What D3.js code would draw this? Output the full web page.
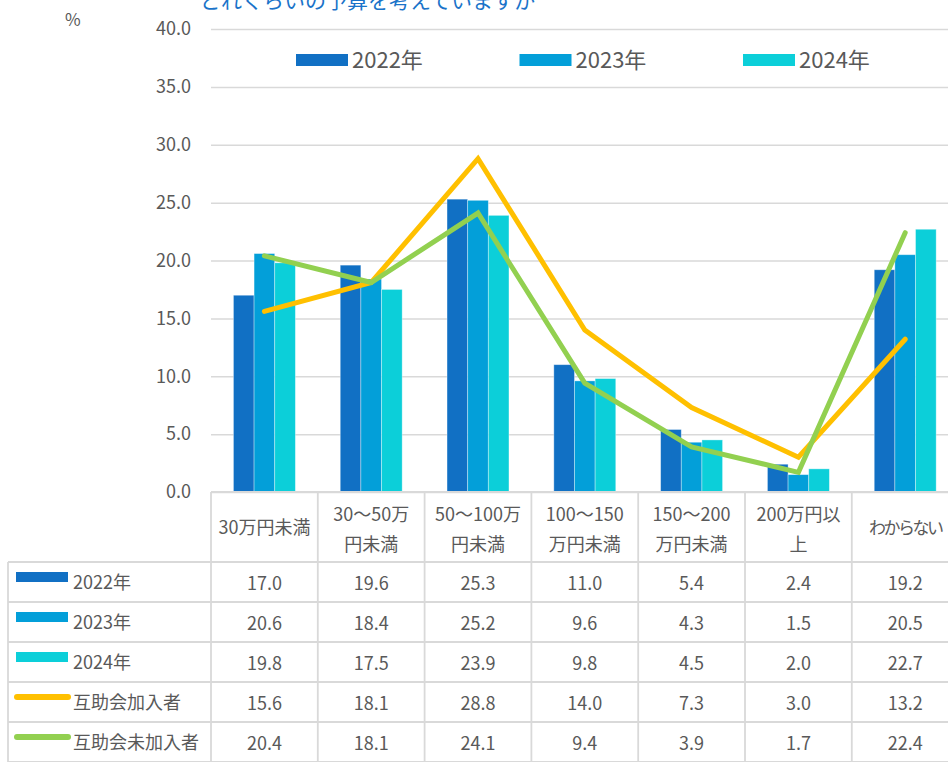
<!DOCTYPE html>
<html lang="ja">
<head>
<meta charset="utf-8">
<title>予算</title>
<script src="https://cdn.jsdelivr.net/npm/d3@7"></script>
<style>
  body { margin: 0; background: #fff; }
  text { font-family: "Noto Sans CJK JP", "Noto Sans", sans-serif; fill: #595959; }
</style>
</head>
<body>
<script>
// data
var categories = ["30万円未満", "30〜50万円未満", "50〜100万円未満", "100〜150万円未満", "150〜200万円未満", "200万円以上", "わからない"];
var catLines = [["30万円未満"], ["30〜50万", "円未満"], ["50〜100万", "円未満"], ["100〜150", "万円未満"], ["150〜200", "万円未満"], ["200万円以", "上"], ["わからない"]];
var barSeries = ["2022年", "2023年", "2024年"];
var v2022 = [17.0, 19.6, 25.3, 11.0, 5.4, 2.4, 19.2];
var v2023 = [20.6, 18.4, 25.2, 9.6, 4.3, 1.5, 20.5];
var v2024 = [19.8, 17.5, 23.9, 9.8, 4.5, 2.0, 22.7];
var lineSeries = ["互助会加入者", "互助会未加入者"];
var member = [15.6, 18.1, 28.8, 14.0, 7.3, 3.0, 13.2];
var nonMember = [20.4, 18.1, 24.1, 9.4, 3.9, 1.7, 22.4];
var yTicks = [0, 5, 10, 15, 20, 25, 30, 35, 40];

var barValues = [v2022, v2023, v2024];
var lineValues = [member, nonMember];
var barColors = ["#1170C4", "#039FD9", "#0CCFD9"];
var lineColors = ["#FFC000", "#92D050"];

var w = 948, h = 762;
var plotLeft = 211, colW = 106.8;
var plotTop = 29, plotBase = 492;
var gridColor = "#d9d9d9";

var svg = d3.select("body").append("svg").attr("width", w).attr("height", h);

var x = d3.scaleBand().domain(categories).range([plotLeft, plotLeft + colW * categories.length]);
var xs = d3.scaleBand().domain(barSeries).range([colW * 0.21, colW * 0.79]);
var y = d3.scaleLinear().domain([0, 40]).range([plotBase, plotTop]);

// title (cut off at the top)
svg.append("text").attr("x", 200).attr("y", 8)
  .style("font-size", "21px").style("fill", "#1A73C9")
  .text("どれくらいの予算を考えていますか");

svg.append("text").attr("x", 65).attr("y", 26).style("font-size", "17px").text("%");

// gridlines + y axis labels
var yAxis = d3.axisLeft(y).tickValues(yTicks).tickFormat(d3.format(".1f")).tickSize(-(w - plotLeft));
var gy = svg.append("g").attr("transform", "translate(" + plotLeft + ",0)").call(yAxis);
gy.select(".domain").remove();
gy.selectAll(".tick line").attr("stroke", gridColor).attr("stroke-width", 1.5);
gy.selectAll(".tick text").attr("x", -20).style("font-size", "18px").style("fill", "#595959")
  .style("font-family", "\"Noto Sans CJK JP\", sans-serif");

// bars
barSeries.forEach(function(s, si) {
  svg.append("g").selectAll("rect")
    .data(barValues[si])
    .enter().append("rect")
    .attr("x", function(d, i) { return x(categories[i]) + xs(s); })
    .attr("y", function(d) { return y(d); })
    .attr("width", xs.bandwidth())
    .attr("height", function(d) { return plotBase - y(d); })
    .attr("fill", barColors[si])
    .attr("stroke", "#ffffff").attr("stroke-opacity", 0.45).attr("stroke-width", 0.8);
});

// lines
var line = d3.line()
  .x(function(d, i) { return x(categories[i]) + x.bandwidth() / 2; })
  .y(function(d) { return y(d); });
lineSeries.forEach(function(s, si) {
  svg.append("path").datum(lineValues[si])
    .attr("d", line)
    .attr("fill", "none")
    .attr("stroke", lineColors[si])
    .attr("stroke-width", 5)
    .attr("stroke-linecap", "round")
    .attr("stroke-linejoin", "miter");
});

// legend
var legend = svg.append("g");
barSeries.forEach(function(s, si) {
  var lx = 296 + si * 223.5;
  legend.append("rect").attr("x", lx).attr("y", 54).attr("width", 52).attr("height", 12).attr("fill", barColors[si]);
  legend.append("text").attr("x", lx + 56).attr("y", 68).style("font-size", "22px").text(s);
});

// data table
var rowTop = 562, rowH = 40, tableLeft = 8;
var table = svg.append("g");
var nRows = barSeries.length + lineSeries.length;
var right = plotLeft + colW * categories.length;

// horizontal lines
table.append("line").attr("x1", plotLeft).attr("x2", right).attr("y1", plotBase).attr("y2", plotBase);
d3.range(nRows + 1).forEach(function(r) {
  table.append("line").attr("x1", tableLeft).attr("x2", right)
    .attr("y1", rowTop + r * rowH).attr("y2", rowTop + r * rowH);
});
// vertical lines
table.append("line").attr("x1", tableLeft).attr("x2", tableLeft).attr("y1", rowTop).attr("y2", rowTop + nRows * rowH);
d3.range(categories.length + 1).forEach(function(c) {
  var cx = plotLeft + c * colW;
  table.append("line").attr("x1", cx).attr("x2", cx).attr("y1", plotBase).attr("y2", rowTop + nRows * rowH);
});
table.selectAll("line").attr("stroke", gridColor).attr("stroke-width", 1.8);

// header labels
categories.forEach(function(c, i) {
  var cx = x(c) + x.bandwidth() / 2;
  var lines = catLines[i];
  lines.forEach(function(t, k) {
    var ty = lines.length === 1 ? 534 : 521 + k * 30;
    var lbl = table.append("text").attr("x", cx).attr("y", ty).attr("text-anchor", "middle")
      .style("font-size", "18px").text(t);
    // kana-only label is narrower in the original font
    if (i === categories.length - 1) lbl.style("font-size", "17px").style("letter-spacing", "-2.5px");
  });
});

// rows
var rows = barSeries.map(function(s, si) { return { name: s, vals: barValues[si], color: barColors[si], type: "bar" }; })
  .concat(lineSeries.map(function(s, si) { return { name: s, vals: lineValues[si], color: lineColors[si], type: "line" }; }));

rows.forEach(function(r, ri) {
  var ry = rowTop + ri * rowH;
  if (r.type === "bar") {
    table.append("rect").attr("x", 16).attr("y", ry + 10).attr("width", 52).attr("height", 10).attr("fill", r.color);
  } else {
    table.append("line").attr("x1", 17).attr("x2", 68).attr("y1", ry + 15).attr("y2", ry + 15)
      .attr("stroke", r.color).attr("stroke-width", 6).attr("stroke-linecap", "round");
  }
  table.append("text").attr("x", 73).attr("y", ry + 27).style("font-size", "18px").text(r.name);
  r.vals.forEach(function(v, i) {
    table.append("text").attr("x", x(categories[i]) + x.bandwidth() / 2).attr("y", ry + 28)
      .attr("text-anchor", "middle").style("font-size", "18px").text(v.toFixed(1));
  });
});
</script>
</body>
</html>
